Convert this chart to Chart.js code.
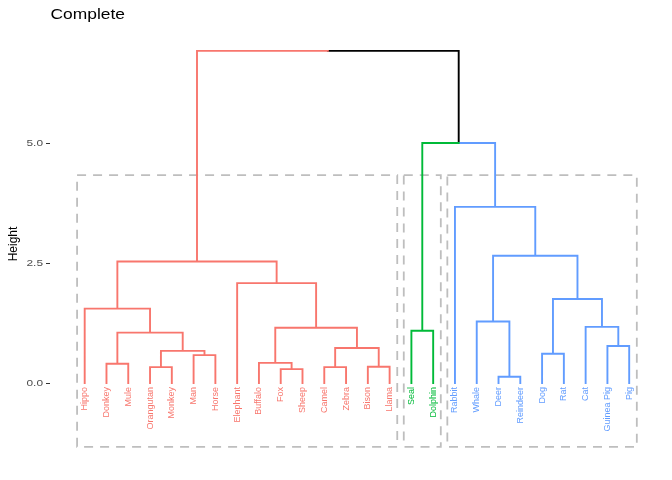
<!DOCTYPE html>
<html>
<head>
<meta charset="utf-8">
<script src="https://cdn.jsdelivr.net/npm/chart.js@4.4.1/dist/chart.umd.min.js"></script>
<style>
  html, body { margin: 0; padding: 0; background: #ffffff; }
  #wrap { width: 672px; height: 480px; position: relative; }
</style>
</head>
<body>
<div id="wrap"><canvas id="c" width="672" height="480"></canvas></div>
<script>
// ---------------- data ----------------
const titleText = 'Complete';
const yAxisTitle = 'Height';
const leafLabels = ['Hippo','Donkey','Mule','Orangutan','Monkey','Man','Horse','Elephant',
  'Buffalo','Fox','Sheep','Camel','Zebra','Bison','Llama','Seal','Dolphin','Rabbit',
  'Whale','Deer','Reindeer','Dog','Rat','Cat','Guinea Pig','Pig'];
const leafCluster = [1,1,1,1,1,1,1,1,1,1,1,1,1,1,1,2,2,3,3,3,3,3,3,3,3,3];
// hclust-style merges: negative = leaf (1-based), positive = earlier merge step
const mergeLeft   = [-20,-10,-4,-12,-14,-2,-9,-6,-22,3,4,-25,6,-16,7,-24,-19,-1,9,-8,18,17,-18,14,21];
const mergeRight  = [-21,-11,-5,-13,-15,-3,2,-7,-23,8,5,-26,10,-17,11,12,1,13,16,15,20,19,22,23,24];
const mergeHeight = [0.13,0.29,0.33,0.33,0.34,0.40,0.42,0.58,0.61,0.67,0.73,0.77,1.05,1.09,
  1.15,1.17,1.28,1.55,1.75,2.08,2.53,2.65,3.67,5.00,6.92];
const yTicks = [0, 2.5, 5.0];
const cutHeight = 4.33;
const rectBottom = -1.33;

// ---------------- styles ----------------
const clusterColors = { 0: '#000000', 1: '#F8766D', 2: '#00BA38', 3: '#619CFF' };
const FONT = '"Liberation Sans", Arial, Helvetica, sans-serif';

// ---------------- build tree geometry ----------------
const nodeX = {}, nodeH = {}, nodeC = {};
function key(id) { return id < 0 ? 'L' + (-id) : 'M' + id; }
leafLabels.forEach((l, i) => { nodeX['L' + (i + 1)] = i + 1; nodeH['L' + (i + 1)] = 0; nodeC['L' + (i + 1)] = leafCluster[i]; });
mergeHeight.forEach((h, k) => {
  const a = key(mergeLeft[k]), b = key(mergeRight[k]), m = 'M' + (k + 1);
  nodeX[m] = (nodeX[a] + nodeX[b]) / 2;
  nodeH[m] = h;
  nodeC[m] = (nodeC[a] === nodeC[b]) ? nodeC[a] : 0;
});
const segs = { 0: [], 1: [], 2: [], 3: [] };
mergeHeight.forEach((h, k) => {
  const m = 'M' + (k + 1);
  [key(mergeLeft[k]), key(mergeRight[k])].forEach(c => {
    const arr = segs[nodeC[c]];
    arr.push({ x: nodeX[c], y: nodeH[c] });
    arr.push({ x: nodeX[c], y: h });
    arr.push({ x: nodeX[m], y: h });
    arr.push({ x: nodeX[m], y: null });
  });
});
// cluster rectangles
const rectPts = [];
[1, 2, 3].forEach(cl => {
  const idx = leafCluster.map((c, i) => c === cl ? i + 1 : null).filter(v => v !== null);
  const x0 = Math.min(...idx) - 0.35, x1 = Math.max(...idx) + 0.35;
  rectPts.push({ x: x0, y: cutHeight }, { x: x1, y: cutHeight }, { x: x1, y: rectBottom },
               { x: x0, y: rectBottom }, { x: x0, y: cutHeight }, { x: x0, y: null });
});

const datasets = [{
  data: rectPts, borderColor: '#BEBEBE', borderWidth: 1.8, borderDash: [9, 7],
  pointRadius: 0, spanGaps: false, order: 10, tension: 0, fill: false
}];
[1, 2, 3, 0].forEach(c => {
  datasets.push({
    data: segs[c], borderColor: clusterColors[c], borderWidth: 1.9,
    pointRadius: 0, spanGaps: false, order: 1, tension: 0, fill: false,
    borderJoinStyle: 'miter', borderCapStyle: 'square'
  });
});

// ---------------- text plugin ----------------
function stretchedText(ctx, text, x, y, sx, align) {
  ctx.save();
  ctx.translate(x, y);
  ctx.scale(sx, 1);
  ctx.textAlign = align;
  ctx.fillText(text, 0, 0);
  ctx.restore();
}
const textPlugin = {
  id: 'texts',
  afterDraw(chart) {
    const ctx = chart.ctx, xs = chart.scales.x, ys = chart.scales.y;
    ctx.save();
    // title
    ctx.font = '15px ' + FONT;
    ctx.fillStyle = '#000000';
    ctx.textBaseline = 'alphabetic';
    stretchedText(ctx, titleText, chart.chartArea.left + 0.5, 19, 1.16, 'left');
    // y tick labels
    ctx.font = '9.5px ' + FONT;
    ctx.fillStyle = '#4D4D4D';
    ctx.textBaseline = 'middle';
    yTicks.forEach(v => stretchedText(ctx, v.toFixed(1), ys.right - 7, ys.getPixelForValue(v) + 0.5, 1.25, 'right'));
    // leaf labels
    ctx.font = '9px ' + FONT;
    const y0 = ys.getPixelForValue(0) + 4;
    leafLabels.forEach((lab, i) => {
      ctx.save();
      ctx.translate(xs.getPixelForValue(i + 1), y0);
      ctx.rotate(-Math.PI / 2);
      ctx.textAlign = 'right';
      ctx.textBaseline = 'middle';
      ctx.fillStyle = clusterColors[leafCluster[i]];
      ctx.fillText(lab, 0, 0);
      ctx.restore();
    });
    ctx.restore();
  }
};

new Chart(document.getElementById('c'), {
  type: 'line',
  data: { datasets },
  options: {
    responsive: false,
    animation: false,
    devicePixelRatio: 1,
    layout: { padding: { top: 28, bottom: 20, left: 0, right: 10 } },
    plugins: { legend: { display: false }, tooltip: { enabled: false }, title: { display: false } },
    scales: {
      x: { type: 'linear', display: false, min: -0.593, max: 27.506 },
      y: {
        type: 'linear', position: 'left', min: -1.604, max: 7.396,
        afterBuildTicks: s => { s.ticks = yTicks.map(v => ({ value: v })); },
        afterFit: s => { s.width = 50; },
        grid: { display: true, drawOnChartArea: false, drawTicks: true, tickLength: 4, color: '#333333', lineWidth: 1 },
        border: { display: false },
        ticks: { display: false },
        title: { display: true, text: yAxisTitle, color: '#000000', font: { size: 12, family: FONT }, padding: { top: 6, bottom: 0 } }
      }
    }
  },
  plugins: [textPlugin]
});
</script>
</body>
</html>
